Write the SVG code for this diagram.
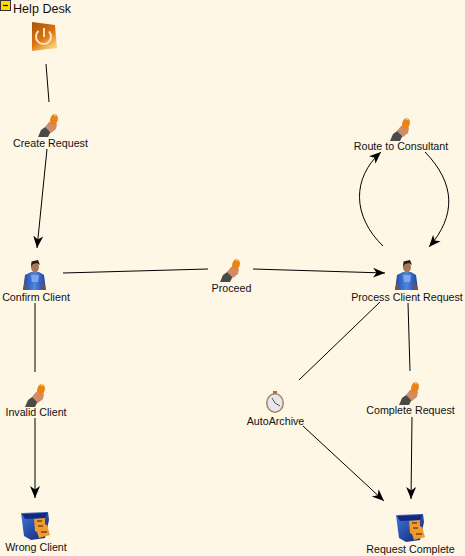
<svg xmlns="http://www.w3.org/2000/svg" width="465" height="556" viewBox="0 0 465 556">
<style>
text{font-family:"Liberation Sans",Arial,sans-serif;font-size:10.700px;fill:#111;text-anchor:middle}
.c{fill:none;stroke:#000;stroke-width:1}
.a{marker-end:url(#ah)}
</style>
<defs>
<marker id="ah" markerUnits="userSpaceOnUse" markerWidth="13" markerHeight="12" refX="12" refY="5.500" orient="auto">
<path d="M0,0.500L12,5.500L0,10.500L3.500,5.500Z" fill="#000"/>
</marker>
<linearGradient id="og" x1="0" y1="0" x2="0.6" y2="1"><stop offset="0" stop-color="#a85208"/><stop offset="0.6" stop-color="#dc7410"/><stop offset="1" stop-color="#f8d070"/></linearGradient>
<linearGradient id="bl" x1="0" y1="0" x2="1" y2="1"><stop offset="0" stop-color="#3f7ae0"/><stop offset="1" stop-color="#10206e"/></linearGradient>
<linearGradient id="sh" x1="0" y1="0" x2="1" y2="0"><stop offset="0" stop-color="#1e46a8"/><stop offset="0.5" stop-color="#4f86e0"/><stop offset="1" stop-color="#1c3f9c"/></linearGradient>
<g id="hand">
<path d="M0,24L3,17L10,12L15,16L12,20L10,24Z" fill="#4a4a46"/>
<path d="M7,14L11,9L15,8L19,11L18,16L13,20L10,17Z" fill="#d08c68"/>
<ellipse cx="16" cy="6.500" rx="3.800" ry="5.500" transform="rotate(15 16 6.500)" fill="#ea8418"/>
<path d="M16,0L18.500,3L16,3Z" fill="#f8c888"/>
</g>
<g id="person">
<path d="M1,30L3,15L9,12L17,12L22,15L24,30Z" fill="url(#sh)"/>
<path d="M9,15L17,15L16,22L10,22Z" fill="#7ea6e8"/>
<path d="M1,30L3,20L5,30ZM24,30L21,20L20,30Z" fill="#7a5240"/>
<ellipse cx="13" cy="7" rx="4" ry="5.500" fill="#a87658"/>
<path d="M9,7L9.500,1.500L16,0L18,5L15,3L11,4Z" fill="#2a1c16"/>
</g>
<g id="cabinet">
<path d="M0,1L27,0L28,8L24,26L10,28L3,24Z" fill="url(#bl)"/>
<path d="M1,2L26,1L24,6L4,7Z" fill="#14277a"/>
<path d="M13,7L24,6L24,12L26,13L29,23L18,26L16,20L14,19Z" fill="#f09a30"/>
<path d="M16,9h5M17,14h5M20,20h6" stroke="#7a4410" stroke-width="1.500" fill="none"/>
</g>
<g id="clock">
<rect x="7" y="0" width="4" height="3" fill="#9a7448"/>
<ellipse cx="9" cy="12" rx="9" ry="10" fill="#a8865c"/>
<ellipse cx="9" cy="12" rx="7.500" ry="8.500" fill="#e6e8ee"/>
<path d="M9,12L6,7M9,12L14,15" stroke="#555" stroke-width="1" fill="none"/>
</g>
</defs>
<rect width="465" height="556" fill="#fef7e5"/>
<g id="connectors">
<path class="c" d="M46,64L49,102"/>
<path class="c a" d="M47,149L37,248"/>
<path class="c" d="M63,273L208,269"/>
<path class="c a" d="M253,269L385,273"/>
<path class="c a" d="M383,246C352,216 352,178 381,152"/>
<path class="c a" d="M425,152C456,184 456,216 429,247"/>
<path class="c" d="M380,302L299,380"/>
<path class="c" d="M408,303L410,371"/>
<path class="c a" d="M412,417L411,499"/>
<path class="c a" d="M303,426L384,501"/>
<path class="c" d="M35,303L35,372"/>
<path class="c a" d="M35,418L35,498"/>
</g>
<g id="swimlane">
<rect x="0.500" y="0.500" width="10" height="10" fill="#ffd800" stroke="#333"/>
<path d="M3,5.500H8" stroke="#111" stroke-width="1.200"/>
<text x="13" y="13" style="text-anchor:start;font-size:12.600px">Help Desk</text>
</g>
<g id="help-desk">
<path d="M32,22L55,25L57,48L32,51Z" fill="url(#og)"/>
<path d="M38.500,31A7.500,7.500 0 1 0 49,31.500M44,28V37" fill="none" stroke="#fbe3c4" stroke-width="2"/>
</g>
<g id="create-request"><use href="#hand" x="38" y="113"/><text x="50.500" y="147">Create Request</text></g>
<g id="route-to-consultant"><use href="#hand" x="390" y="117"/><text x="401" y="150">Route to Consultant</text></g>
<g id="confirm-client"><use href="#person" x="22" y="260"/><text x="36" y="301">Confirm Client</text></g>
<g id="proceed"><use href="#hand" x="220" y="258"/><text x="231.500" y="292">Proceed</text></g>
<g id="process-client-request"><use href="#person" x="394" y="260"/><text x="407" y="301">Process Client Request</text></g>
<g id="invalid-client"><use href="#hand" x="25" y="383"/><text x="36" y="416">Invalid Client</text></g>
<g id="autoarchive"><use href="#clock" x="266" y="391"/><text x="275.500" y="425">AutoArchive</text></g>
<g id="complete-request"><use href="#hand" x="399" y="381"/><text x="410.500" y="414">Complete Request</text></g>
<g id="wrong-client"><use href="#cabinet" x="21" y="512"/><text x="36" y="551">Wrong Client</text></g>
<g id="request-complete"><use href="#cabinet" x="396" y="514"/><text x="410.500" y="553">Request Complete</text></g>
</svg>
